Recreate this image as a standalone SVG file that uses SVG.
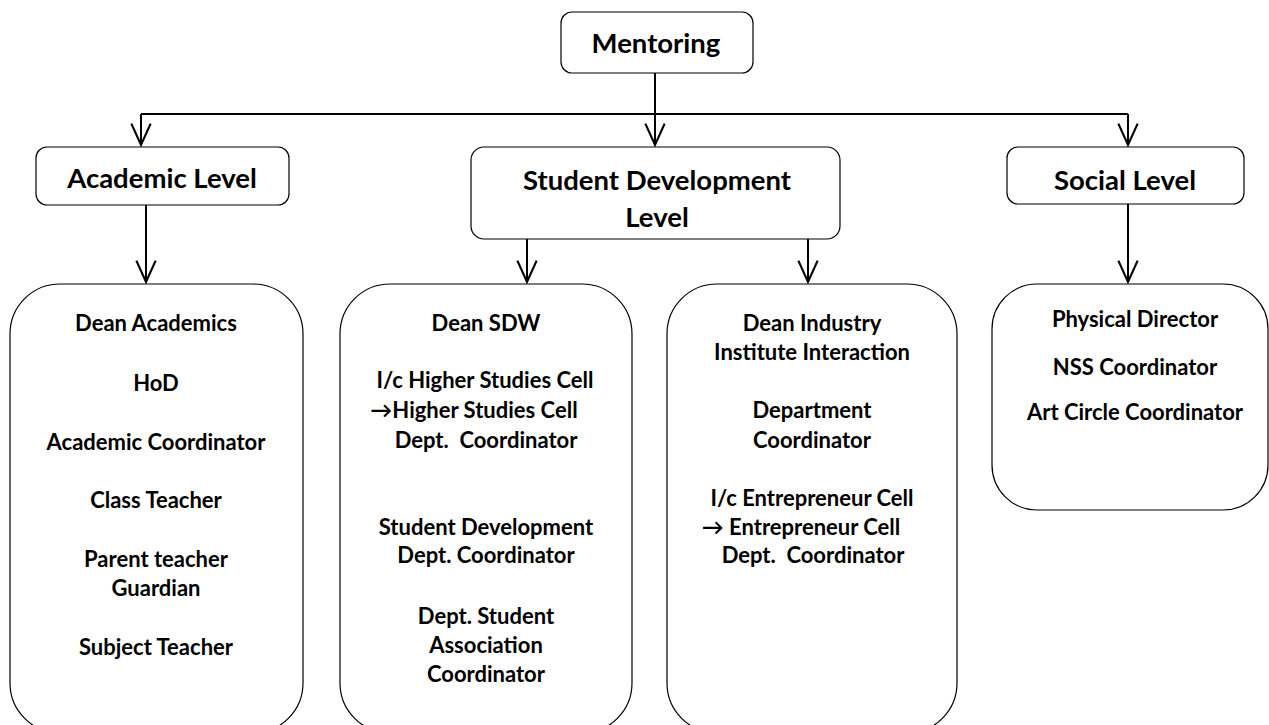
<svg xmlns="http://www.w3.org/2000/svg" width="1269" height="725" viewBox="0 0 1269 725">
<defs>
<style>
.box{fill:#fff;stroke:#000;stroke-width:1.2}
.hd{font-family:Lato,"Open Sans","Liberation Sans",sans-serif;font-weight:bold;font-size:27.5px;text-anchor:middle;fill:#000}
.tx{font-family:Lato,"Open Sans","Liberation Sans",sans-serif;font-weight:bold;font-size:22px;text-anchor:middle;fill:#000}
.cn{fill:none;stroke:#000;stroke-width:2}
</style>
<marker id="ah" markerUnits="userSpaceOnUse" markerWidth="30" markerHeight="30" viewBox="-24 -12 28 24" refX="0" refY="0" orient="auto">
<path d="M-20,-9 L0,0 L-20,9" fill="none" stroke="#000" stroke-width="2"/>
</marker>
</defs>
<rect width="1269" height="725" fill="#fff"/>
<g id="connectors">
<path class="cn" d="M655,73 V145" marker-end="url(#ah)"/>
<path class="cn" d="M141,114 H1128"/>
<path class="cn" d="M141,114 V145" marker-end="url(#ah)"/>
<path class="cn" d="M1128,114 V145" marker-end="url(#ah)"/>
<path class="cn" d="M146,205 V282" marker-end="url(#ah)"/>
<path class="cn" d="M527,239 V282" marker-end="url(#ah)"/>
<path class="cn" d="M808,239 V282" marker-end="url(#ah)"/>
<path class="cn" d="M1128,204 V282" marker-end="url(#ah)"/>
</g>
<g id="mentoring">
<rect class="box" x="561" y="12" width="192" height="61" rx="11"/>
<text class="hd" x="656" y="53">Mentoring</text>
</g>
<g id="academic-level">
<rect class="box" x="36" y="147" width="253" height="58" rx="11"/>
<text class="hd" x="162" y="188">Academic Level</text>
</g>
<g id="student-development-level">
<rect class="box" x="471" y="147" width="369" height="92" rx="13"/>
<text class="hd" x="657" y="190">Student Development</text>
<text class="hd" x="657" y="227">Level</text>
</g>
<g id="social-level">
<rect class="box" x="1007" y="147" width="237" height="57" rx="11"/>
<text class="hd" x="1125" y="190">Social Level</text>
</g>
<g id="academic-members">
<rect class="box" x="10" y="284" width="293" height="449" rx="50"/>
<text class="tx" x="156" y="331">Dean Academics</text>
<text class="tx" x="156" y="391">HoD</text>
<text class="tx" x="156" y="450">Academic Coordinator</text>
<text class="tx" x="156" y="508">Class Teacher</text>
<text class="tx" x="156" y="567">Parent teacher</text>
<text class="tx" x="156" y="596">Guardian</text>
<text class="tx" x="156" y="655">Subject Teacher</text>
</g>
<g id="student-development-members">
<rect class="box" x="340" y="284" width="292" height="449" rx="50"/>
<text class="tx" x="486" y="331">Dean SDW</text>
<text class="tx" x="485" y="388">I/c Higher Studies Cell</text>
<text class="tx" x="474" y="418">→Higher Studies Cell</text>
<text class="tx" x="486" y="448" xml:space="preserve">Dept.  Coordinator</text>
<text class="tx" x="486" y="535">Student Development</text>
<text class="tx" x="486" y="563">Dept. Coordinator</text>
<text class="tx" x="486" y="624">Dept. Student</text>
<text class="tx" x="486" y="653">Association</text>
<text class="tx" x="486" y="682">Coordinator</text>
</g>
<g id="industry-members">
<rect class="box" x="667" y="284" width="290" height="449" rx="50"/>
<text class="tx" x="812" y="331">Dean Industry</text>
<text class="tx" x="812" y="360">Institute Interaction</text>
<text class="tx" x="812" y="418">Department</text>
<text class="tx" x="812" y="448">Coordinator</text>
<text class="tx" x="812" y="506">I/c Entrepreneur Cell</text>
<text class="tx" x="801" y="535">→ Entrepreneur Cell</text>
<text class="tx" x="813" y="563" xml:space="preserve">Dept.  Coordinator</text>
</g>
<g id="social-members">
<rect class="box" x="992" y="284" width="276" height="226" rx="45"/>
<text class="tx" x="1135" y="327">Physical Director</text>
<text class="tx" x="1135" y="375">NSS Coordinator</text>
<text class="tx" x="1135" y="420">Art Circle Coordinator</text>
</g>
</svg>
